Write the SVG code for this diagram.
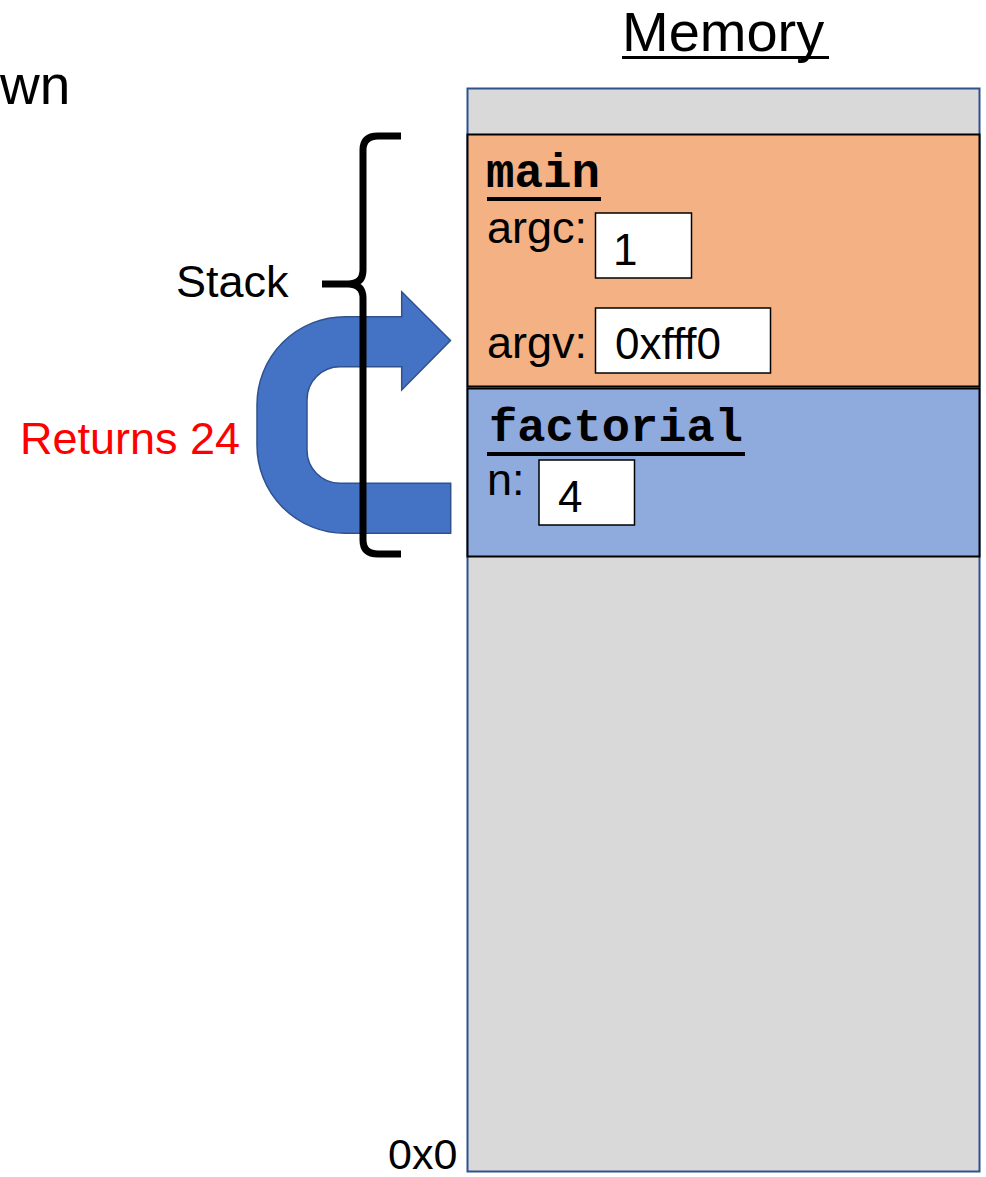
<svg xmlns="http://www.w3.org/2000/svg" width="986" height="1177" viewBox="0 0 986 1177">
<style>
.sans{font-family:"Liberation Sans","Noto Sans",sans-serif;fill:#000}
.mono{font-family:"Liberation Mono","Courier New",monospace;font-weight:bold;fill:#000}
.box{fill:#fff;stroke:#000;stroke-width:1.5}
.frame{stroke:#000;stroke-width:2}
</style>
<rect width="986" height="1177" fill="#fff"/>
<text class="sans" x="0" y="104" font-size="55">wn</text>
<g id="memory-title">
<text class="sans" x="622" y="51" font-size="56">Memory</text>
<rect x="622" y="56" width="207" height="3" fill="#000"/>
</g>
<g id="memory">
<rect x="467.5" y="88.5" width="512" height="1083" fill="#D9D9D9" stroke="#2F528F" stroke-width="2"/>
</g>
<g id="main-frame">
<rect class="frame" x="467.5" y="134.5" width="512" height="252" fill="#F4B183"/>
<text class="mono" x="486" y="187" font-size="47.5">main</text>
<rect x="487" y="197" width="114" height="4" fill="#000"/>
<text class="sans" x="487" y="243" font-size="45">argc:</text>
<rect class="box" x="595.5" y="213" width="96" height="65"/>
<text class="sans" x="613" y="265" font-size="44">1</text>
<text class="sans" x="487" y="358" font-size="45">argv:</text>
<rect class="box" x="595.5" y="308" width="175" height="65"/>
<text class="sans" x="615" y="359" font-size="44">0xfff0</text>
</g>
<g id="factorial-frame">
<rect class="frame" x="467.5" y="388.5" width="512" height="168" fill="#8FAADC"/>
<text class="mono" x="489" y="441" font-size="47">factorial</text>
<rect x="487" y="452" width="258" height="4" fill="#000"/>
<text class="sans" x="487" y="495" font-size="45">n:</text>
<rect class="box" x="539" y="460" width="95.5" height="65"/>
<text class="sans" x="558" y="512" font-size="44">4</text>
</g>
<g id="return-arrow">
<path d="M450.7 533.3 H345 A88 88 0 0 1 257 445 V405 A88 88 0 0 1 345 316.7 H401.7 V291.7 L450.5 340.5 L401.7 390 V366.7 H340 A33 33 0 0 0 307 400 V450 A33 33 0 0 0 340 483.3 H450.7 Z" fill="#4472C4" stroke="#2F528F" stroke-width="1.5"/>
</g>
<g id="connectors">
<path d="M401 136 H378 Q363 136 363 150 V270 Q363 284 348 284 H322 M348 284 Q363 284 363 298 V540 Q363 554 378 554 H401" fill="none" stroke="#000" stroke-width="7"/>
</g>
<text class="sans" x="176" y="297" font-size="45">Stack</text>
<text class="sans" x="20" y="454" font-size="45" style="fill:#FF0000">Returns 24</text>
<text class="sans" x="388" y="1169" font-size="43">0x0</text>
</svg>
